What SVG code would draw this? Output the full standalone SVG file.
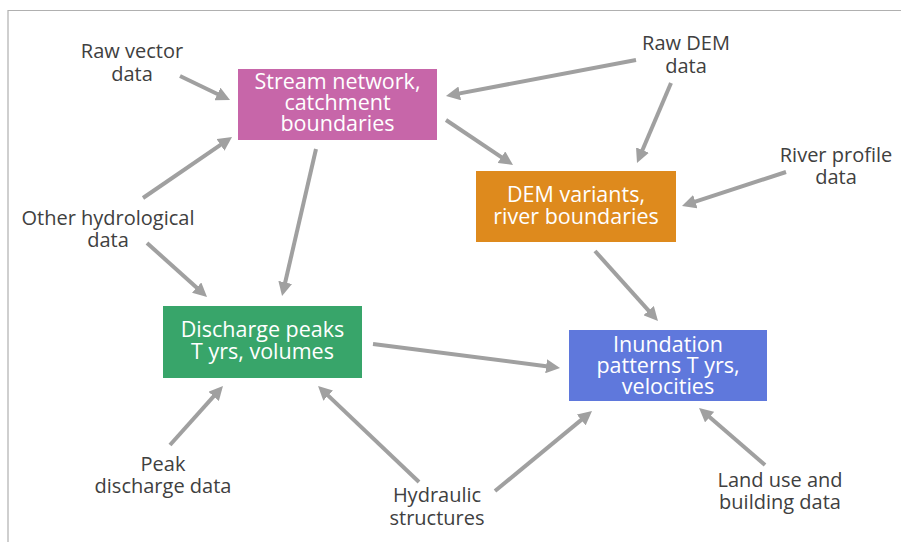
<svg xmlns="http://www.w3.org/2000/svg" width="901" height="542" viewBox="0 0 901 542">
<style>
.box text{font-family:"Open Sans","Noto Sans","Liberation Sans",sans-serif;font-size:21.5px;fill:#ffffff;text-anchor:middle}
.lbl{font-family:"Open Sans","Noto Sans","Liberation Sans",sans-serif;font-size:20px;fill:#404040;text-anchor:middle}
.conn line{stroke:#a0a0a0;stroke-width:4;fill:none;marker-end:url(#ah)}
</style>
<defs>
<marker id="ah" markerUnits="userSpaceOnUse" viewBox="0 0 14 14" markerWidth="14" markerHeight="14" refX="4" refY="7" orient="auto">
<path d="M0,0 L14,7 L0,14 z" fill="#a0a0a0"/>
</marker>
</defs>
<rect width="901" height="542" fill="#ffffff"/>
<path d="M8,542 V10.5 H901" fill="none" stroke="#b0b0b0" stroke-width="1.2"/>

<g id="stream" class="box">
<rect x="238" y="69" width="199" height="71" fill="#c766a9"/>
<text x="337.5" y="89">Stream network,</text>
<text x="337.5" y="110">catchment</text>
<text x="337.5" y="131">boundaries</text>
</g>
<g id="dem" class="box">
<rect x="476" y="171" width="200" height="71" fill="#de8a1d"/>
<text x="576" y="202">DEM variants,</text>
<text x="576" y="224">river boundaries</text>
</g>
<g id="discharge" class="box">
<rect x="163" y="306" width="199" height="72" fill="#38a56a"/>
<text x="262.5" y="337">Discharge peaks</text>
<text x="262.5" y="359">T yrs, volumes</text>
</g>
<g id="inundation" class="box">
<rect x="569" y="330" width="198" height="71" fill="#5f78dc"/>
<text x="668" y="352">Inundation</text>
<text x="668" y="373">patterns T yrs,</text>
<text x="668" y="394">velocities</text>
</g>

<g id="raw-vector"><text class="lbl" x="132" y="58">Raw vector</text><text class="lbl" x="132" y="81">data</text></g>
<g id="raw-dem"><text class="lbl" x="686" y="50">Raw DEM</text><text class="lbl" x="686" y="73">data</text></g>
<g id="river-profile"><text class="lbl" x="836" y="162">River profile</text><text class="lbl" x="836" y="184">data</text></g>
<g id="other-hydro"><text class="lbl" x="108" y="225">Other hydrological</text><text class="lbl" x="108" y="247">data</text></g>
<g id="peak-discharge"><text class="lbl" x="163" y="471">Peak</text><text class="lbl" x="163" y="493">discharge data</text></g>
<g id="hydraulic"><text class="lbl" x="437" y="502">Hydraulic</text><text class="lbl" x="437" y="525">structures</text></g>
<g id="land-use"><text class="lbl" x="780" y="487">Land use and</text><text class="lbl" x="780" y="509">building data</text></g>

<g id="connectors" class="conn">
<line x1="180" y1="76" x2="221" y2="95.7"/>
<line x1="143" y1="198" x2="223.8" y2="142.6"/>
<line x1="147" y1="243" x2="199.6" y2="290.3"/>
<line x1="316" y1="149" x2="284.3" y2="286.3"/>
<line x1="636" y1="60" x2="455.8" y2="94.1"/>
<line x1="446" y1="120" x2="504.7" y2="159.4"/>
<line x1="671" y1="83" x2="640.9" y2="153.8"/>
<line x1="786" y1="172" x2="691.5" y2="202.9"/>
<line x1="595" y1="251" x2="651.3" y2="313.6"/>
<line x1="373" y1="344" x2="550.1" y2="366.7"/>
<line x1="170" y1="445" x2="216.3" y2="393.4"/>
<line x1="419" y1="482" x2="325.3" y2="392.9"/>
<line x1="495" y1="491" x2="584.3" y2="417.4"/>
<line x1="765" y1="465" x2="706.6" y2="414.5"/>
</g>
</svg>
